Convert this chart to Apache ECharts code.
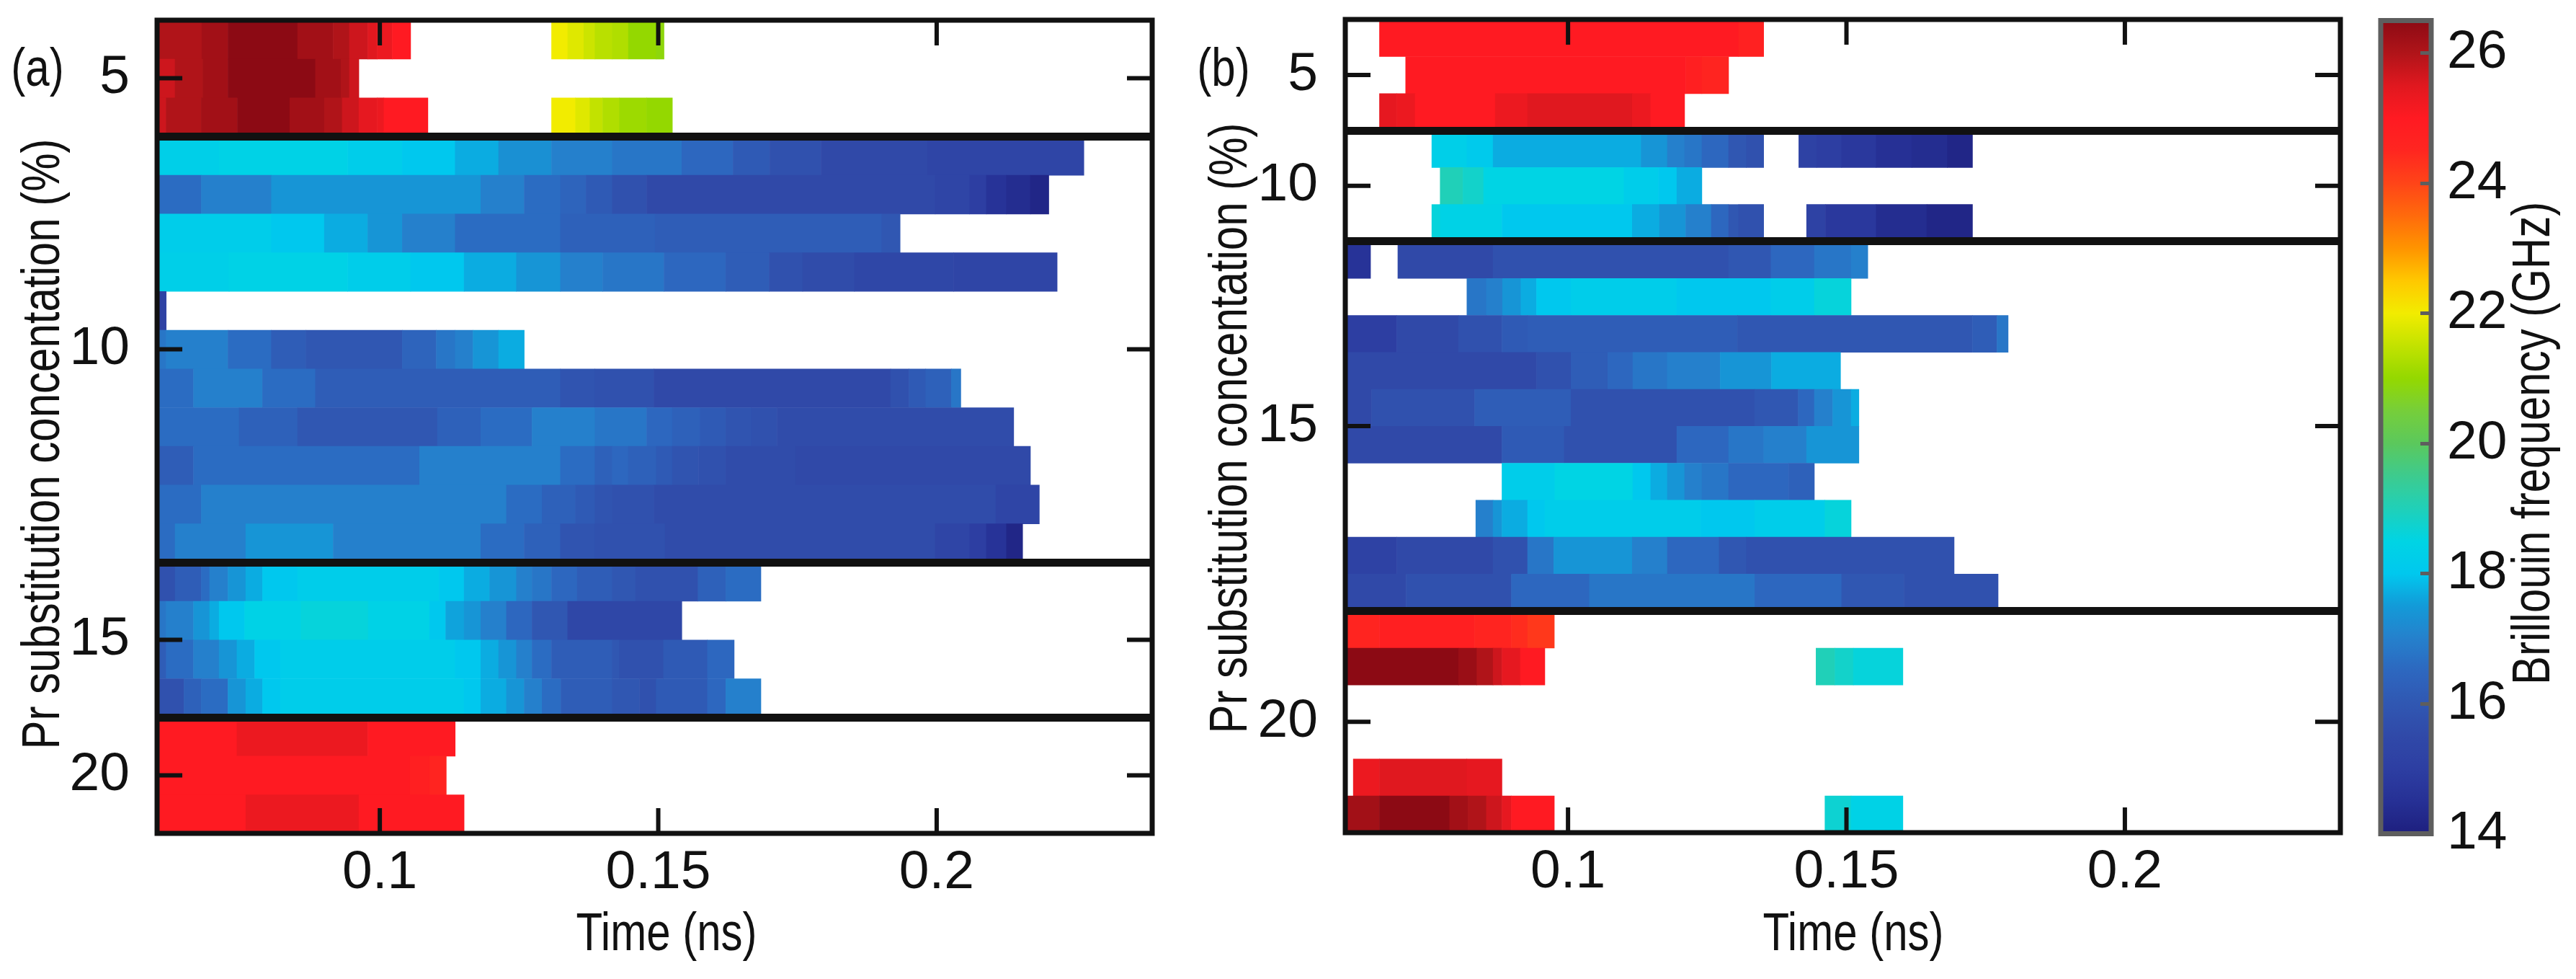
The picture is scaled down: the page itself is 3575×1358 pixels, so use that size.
<!DOCTYPE html>
<html>
<head>
<meta charset="utf-8">
<script src="https://cdn.jsdelivr.net/npm/echarts@6/dist/echarts.min.js"></script>
<style>
  html, body { margin: 0; padding: 0; background: #fff; }
  #chart { width: 3575px; height: 1358px; }
</style>
</head>
<body>
<div id="chart"></div>
<script>
// each row: [t0, f0, t1, f1, ..., tEnd]  (time in ns, Brillouin frequency in GHz, null = no data)
const aSub1 = [
  [0.06,26.0, 0.068,26.2, 0.0727,26.5, 0.0852,26.2, 0.0916,26.0, 0.0945,25.7, 0.0978,25.5, 0.0995,25.3, 0.1022,25.0, 0.1055,null, 0.1308,22.0, 0.1337,21.8, 0.1366,21.6, 0.1386,21.4, 0.1417,21.3, 0.1446,21.0, 0.1496,20.9, 0.151],
  [0.06,25.7, 0.0632,26.0, 0.0682,26.2, 0.0727,26.5, 0.0884,26.2, 0.093,26.0, 0.0945,25.7, 0.0962],
  [0.06,25.7, 0.0616,26.0, 0.0679,26.2, 0.0744,26.5, 0.0838,26.2, 0.09,26.0, 0.0932,25.7, 0.0962,25.4, 0.0995,25.3, 0.1007,25.0, 0.1086,null, 0.1308,22.0, 0.1351,21.8, 0.1377,21.5, 0.14,21.3, 0.143,21.1, 0.1479,21.0, 0.1525]
];
const aSub2 = [
  [0.06,18.3, 0.0711,18.4, 0.0942,18.2, 0.104,18.0, 0.1135,17.7, 0.1213,17.3, 0.1308,17.0, 0.1417,16.8, 0.1542,16.5, 0.1634,16.1, 0.17,15.8, 0.1792,15.5, 0.1983,15.3, 0.2264],
  [0.06,16.6, 0.0679,17.0, 0.0805,17.4, 0.1181,17.0, 0.1259,16.6, 0.1324,16.4, 0.137,16.1, 0.1417,15.8, 0.1479,15.5, 0.1997,15.3, 0.2059,15.0, 0.2089,14.6, 0.2125,14.4, 0.2168,14.2, 0.2201],
  [0.06,18.2, 0.0805,18.0, 0.09,17.7, 0.0978,17.4, 0.104,17.0, 0.1135,16.6, 0.1324,16.3, 0.1494,16.2, 0.1901,16.0, 0.1934],
  [0.06,18.3, 0.0729,18.4, 0.0942,18.2, 0.1055,18.0, 0.1151,17.7, 0.1245,17.4, 0.1324,17.0, 0.14,16.8, 0.151,16.5, 0.1621,16.2, 0.1699,15.8, 0.1759,15.6, 0.1852,15.4, 0.203,15.3, 0.2216],
  [0.06,15.2, 0.0616],
  [0.06,16.8, 0.0616,17.0, 0.0727,16.6, 0.0805,16.2, 0.0867,16.0, 0.104,16.4, 0.1101,16.8, 0.1135,17.0, 0.1167,17.4, 0.1213,17.7, 0.1259],
  [0.06,16.6, 0.0665,17.0, 0.0789,16.6, 0.0884,16.2, 0.1324,15.9, 0.1386,15.8, 0.1492,15.5, 0.1917,15.8, 0.195,16.1, 0.198,16.3, 0.2026,16.8, 0.2043],
  [0.06,16.6, 0.0747,16.3, 0.0852,16.0, 0.1103,16.3, 0.1181,16.6, 0.1273,17.0, 0.1386,16.8, 0.1479,16.5, 0.1525,16.3, 0.1575,16.1, 0.1621,15.9, 0.1667,15.8, 0.1713,15.6, 0.2138],
  [0.06,16.2, 0.0665,16.6, 0.1071,17.0, 0.1324,16.6, 0.1386,16.3, 0.1417,16.5, 0.1446,16.3, 0.1496,16.1, 0.1525,15.9, 0.1572,15.8, 0.1621,15.6, 0.1746,15.5, 0.2168],
  [0.06,16.6, 0.0679,17.0, 0.1227,16.6, 0.1291,16.3, 0.1351,16.1, 0.1386,15.9, 0.1417,15.8, 0.1492,15.6, 0.2106,15.3, 0.2184],
  [0.06,16.6, 0.0632,17.0, 0.0759,17.4, 0.0916,17.0, 0.1181,16.6, 0.1259,16.3, 0.1324,15.9, 0.1386,15.8, 0.1512,15.6, 0.1997,15.3, 0.2059,15.0, 0.2089,14.6, 0.2125,14.2, 0.2154]
];
const aSub3 = [
  [0.06,15.8, 0.0632,16.2, 0.0679,16.6, 0.0694,17.0, 0.0727,17.4, 0.0759,17.7, 0.0789,18.0, 0.0852,18.2, 0.1106,18.0, 0.1151,17.7, 0.1197,17.4, 0.1245,17.0, 0.1273,16.8, 0.1308,16.5, 0.1354,16.2, 0.1417,16.0, 0.1459,15.8, 0.1571,16.3, 0.1621,16.6, 0.1684],
  [0.06,16.8, 0.0616,17.0, 0.0665,17.4, 0.0694,17.7, 0.0711,18.0, 0.0757,18.4, 0.0858,18.6, 0.0979,18.4, 0.1089,18.0, 0.1118,17.6, 0.1151,17.4, 0.1181,17.0, 0.1227,16.5, 0.1273,16.0, 0.1337,15.4, 0.1542],
  [0.06,16.2, 0.0616,16.6, 0.0665,17.0, 0.0711,17.4, 0.0743,17.7, 0.0775,18.0, 0.0821,18.2, 0.1135,18.0, 0.1181,17.7, 0.1213,17.4, 0.1245,17.0, 0.1273,16.6, 0.1308,16.2, 0.1417,16.0, 0.143,15.8, 0.1509,16.1, 0.1588,16.5, 0.1636],
  [0.06,15.8, 0.0648,16.3, 0.0679,16.6, 0.0727,17.4, 0.0759,17.7, 0.0789,18.0, 0.0821,18.2, 0.1151,18.0, 0.1181,17.7, 0.1227,17.4, 0.1259,17.0, 0.1291,16.6, 0.1325,16.2, 0.1417,16.0, 0.1466,15.8, 0.1496,16.1, 0.1588,16.5, 0.1621,17.0, 0.1684]
];
const aSub4 = [
  [0.06,25.0, 0.0743,25.3, 0.0978,25.0, 0.1135],
  [0.06,25.0, 0.1054,24.8, 0.1089,24.6, 0.1119],
  [0.06,25.0, 0.0759,25.3, 0.0962,25.0, 0.1151]
];

const bSub1 = [
  [0.0661,25.0, 0.1306,24.7, 0.1351],
  [0.0708,25.0, 0.1211,24.8, 0.124,24.6, 0.1288],
  [0.0661,25.4, 0.0692,25.3, 0.0725,25.0, 0.0869,25.3, 0.0927,25.5, 0.1115,25.3, 0.1148,25.0, 0.1209]
];
const bSub2 = [
  [0.0755,18.3, 0.0818,18.1, 0.0865,17.7, 0.1131,17.4, 0.1178,17.0, 0.1209,16.8, 0.124,16.5, 0.1288,16.0, 0.132,15.8, 0.1351,null, 0.1414,15.2, 0.1446,15.0, 0.1491,14.8, 0.1553,14.5, 0.1617,14.4, 0.1681,14.2, 0.1726],
  [0.077,19.0, 0.0811,18.8, 0.0848,18.5, 0.11,18.2, 0.1162,18.0, 0.1195,17.7, 0.124],
  [0.0755,18.6, 0.077,18.4, 0.0881,18.0, 0.1115,17.7, 0.1164,17.4, 0.1211,17.0, 0.1257,16.5, 0.1288,16.0, 0.1306,15.8, 0.1351,null, 0.1428,15.2, 0.1462,14.8, 0.1553,14.4, 0.1644,14.2, 0.1726]
];
const bSub3 = [
  [0.06,14.6, 0.0645,null, 0.0694,15.5, 0.0865,15.8, 0.1288,16.0, 0.1364,16.5, 0.1442,16.8, 0.1508,17.0, 0.1538],
  [0.0818,16.8, 0.0853,17.0, 0.0882,17.4, 0.0915,17.7, 0.0943,18.0, 0.1005,18.2, 0.1195,18.0, 0.1364,18.2, 0.1442,18.6, 0.1508],
  [0.06,15.0, 0.0692,15.5, 0.0803,15.8, 0.0881,16.1, 0.0927,16.2, 0.1304,16.0, 0.1726,16.2, 0.177,16.8, 0.179],
  [0.06,15.5, 0.0943,15.8, 0.1005,16.2, 0.1071,16.5, 0.1116,16.8, 0.1178,17.0, 0.1273,17.4, 0.1365,17.7, 0.1489],
  [0.06,15.5, 0.0647,15.8, 0.0832,16.2, 0.1005,15.8, 0.1335,16.0, 0.1413,16.5, 0.1442,17.0, 0.1475,17.4, 0.1508,17.7, 0.1522],
  [0.06,15.5, 0.0881,16.1, 0.0993,15.8, 0.1195,16.5, 0.1288,16.8, 0.1351,17.0, 0.1428,17.4, 0.1522],
  [0.0881,18.2, 0.0976,18.5, 0.1116,18.0, 0.1148,17.7, 0.1178,17.4, 0.1209,17.0, 0.124,16.8, 0.1288,16.5, 0.1396,16.3, 0.1442],
  [0.0834,17.0, 0.0865,17.4, 0.0881,17.7, 0.0927,18.0, 0.0958,18.2, 0.1238,18.0, 0.1335,18.2, 0.1461,18.6, 0.1508],
  [0.06,15.2, 0.0692,15.5, 0.0865,15.8, 0.0927,16.8, 0.0974,17.4, 0.1115,17.0, 0.1178,16.5, 0.1271,16.0, 0.132,15.8, 0.1693],
  [0.06,15.5, 0.0709,15.8, 0.0898,16.5, 0.1038,16.8, 0.1335,16.5, 0.1491,16.0, 0.1603,15.8, 0.1772]
];
const bSub4 = [
  [0.06,24.6, 0.0661,24.8, 0.0832,24.6, 0.0898,24.4, 0.0927,24.2, 0.0975],
  [0.06,26.5, 0.0803,26.3, 0.0836,26.0, 0.0865,25.7, 0.0881,25.4, 0.0914,25.0, 0.0958,null, 0.1445,19.0, 0.1479,18.8, 0.1512,18.6, 0.1601],
  [],
  [],
  [0.0614,25.3, 0.0661,25.5, 0.0818,25.4, 0.0881],
  [0.06,26.2, 0.0661,26.5, 0.0787,26.2, 0.082,26.0, 0.0853,25.7, 0.0881,25.4, 0.0898,25.0, 0.0975,null, 0.1461,18.7, 0.1508,18.4, 0.1601]
];

const timeTicks = [0.1, 0.15, 0.2];
const timeMin = 0.06, timeMax = 0.2387;
const concLabels = ['5', '10', '15', '20'];
const concRowsA = [1.5, 8.5, 16, 19.5];
const concRowsB = [1.5, 4.5, 11, 19];
const freqTicks = [14, 16, 18, 20, 22, 24, 26];
const freqMin = 14, freqMax = 26.5;
const colorStops = ['#1e1f7e','#263095','#2d3ea2','#3049a8','#3057b2','#2d67bf','#2580cc','#139ad8',
  '#00c8ee','#00d4e4','#20d0b8','#3dcb8e','#5bc85c','#76ce3a','#94d800','#c2e200','#f2ec00',
  '#ffc800','#ff9400','#ff6a0c','#ff4418','#ff2620','#ff1a22','#e0181f','#b01419','#8c0a14'];

const rowsA = aSub1.concat(aSub2, aSub3, aSub4);
const rowsB = bSub1.concat(bSub2, bSub3, bSub4);
const breaksA = [aSub1.length, aSub1.length + aSub2.length, aSub1.length + aSub2.length + aSub3.length];
const breaksB = [bSub1.length, bSub1.length + bSub2.length, bSub1.length + bSub2.length + bSub3.length];

const PLOT_W = 1381, PLOT_H = 1128;
const TICK_PX = 35;

function toCells(rows) {
  const out = [];
  rows.forEach(function (row, r) {
    for (let i = 1; i < row.length - 1; i += 2) {
      if (row[i] == null) continue;
      out.push([row[i - 1], row[i + 1], r, row[i]]);
    }
  });
  return out;
}

function renderCell(params, api) {
  const p0 = api.coord([api.value(0), api.value(2)]);
  const p1 = api.coord([api.value(1), api.value(2) + 1]);
  return {
    type: 'rect',
    shape: { x: p0[0], y: p0[1], width: p1[0] - p0[0] + 0.6, height: p1[1] - p0[1] + 0.6 },
    style: { fill: api.visual('color') }
  };
}

// tick items: [time, row, side]  side 0 top, 1 bottom, 2 left, 3 right
const SIDE_DIR = [[0, 1], [0, -1], [1, 0], [-1, 0]];
function tickItems(nRows, rowsPos) {
  const out = [];
  timeTicks.forEach(function (t) { out.push([t, 0, 0]); out.push([t, nRows, 1]); });
  rowsPos.forEach(function (r) { out.push([timeMin, r, 2]); out.push([timeMax, r, 3]); });
  return out;
}

function renderTick(params, api) {
  const p = api.coord([api.value(0), api.value(1)]);
  const d = SIDE_DIR[api.value(2)];
  return {
    type: 'line',
    shape: { x1: p[0], y1: p[1], x2: p[0] + TICK_PX * d[0], y2: p[1] + TICK_PX * d[1] },
    style: { stroke: '#111', lineWidth: 6, lineCap: 'butt' }
  };
}

const FONT = '"Liberation Sans", Arial, Helvetica, sans-serif';
const INK = '#111';
const NARROW = 0.8;   // the figure uses a condensed Helvetica

function labelFor(rowsPos) {
  return function (v) {
    for (let i = 0; i < rowsPos.length; i++) {
      if (Math.abs(rowsPos[i] - v) < 1e-6) return concLabels[i];
    }
    return '';
  };
}

function timeAxis(gridIndex) {
  return {
    type: 'value', gridIndex: gridIndex, min: timeMin, max: timeMax, position: 'bottom',
    splitLine: { show: false }, axisLine: { show: false, onZero: false }, axisTick: { show: false },
    axisLabel: { show: true, customValues: timeTicks, margin: 18, fontSize: 75, fontFamily: FONT, color: INK,
      formatter: function (v) { return String(v); } }
  };
}

function concAxis(gridIndex, nRows, rowsPos) {
  return {
    type: 'value', gridIndex: gridIndex, min: 0, max: nRows, inverse: true, position: 'left',
    splitLine: { show: false }, axisLine: { show: false, onZero: false }, axisTick: { show: false },
    axisLabel: { show: true, customValues: rowsPos, margin: 38, fontSize: 75, fontFamily: FONT, color: INK,
      formatter: labelFor(rowsPos) }
  };
}

// thick lines between sample groups
function breakSeries(axisIndex, breaks) {
  return {
    type: 'line', data: [], xAxisIndex: axisIndex, yAxisIndex: axisIndex, z: 4, silent: true,
    markLine: {
      silent: true, symbol: 'none', label: { show: false }, animation: false,
      lineStyle: { color: INK, width: 11, type: 'solid' },
      data: breaks.map(function (b) { return { yAxis: b }; })
    }
  };
}

function caption(text, x, y, vertical) {
  return {
    type: 'text', x: x, y: y, rotation: vertical ? Math.PI / 2 : 0, scaleX: NARROW, silent: true,
    style: { text: text, fontSize: 75, fontFamily: FONT, fill: INK, align: 'center', verticalAlign: 'middle' }
  };
}

const frame = { show: true, borderColor: INK, borderWidth: 7, backgroundColor: 'transparent', z: 5 };

const chart = echarts.init(document.getElementById('chart'), null, { renderer: 'canvas' });
chart.setOption({
  backgroundColor: '#fff',
  animation: false,
  graphic: { elements: [
    caption('(a)', 52, 98, false),
    caption('(b)', 1698, 98, false),
    caption('Pr substitution concentation (%)', 61, 616, true),
    caption('Pr substitution concentation (%)', 1709, 594, true),
    caption('Time (ns)', 925, 1297, false),
    caption('Time (ns)', 2572, 1297, false),
    caption('Brillouin frequency (GHz)', 3517, 615, true)
  ] },
  grid: [
    Object.assign({ left: 218, top: 28, width: PLOT_W, height: PLOT_H }, frame),
    Object.assign({ left: 1867, top: 27, width: PLOT_W, height: PLOT_H }, frame),
    { show: true, left: 3304, top: 28.5, width: 70, height: 1128, borderColor: '#5e5e5e', borderWidth: 7,
      backgroundColor: 'transparent', z: 10 }
  ],
  xAxis: [timeAxis(0), timeAxis(1),
    { type: 'value', gridIndex: 2, min: 0, max: 1, show: false }],
  yAxis: [concAxis(0, rowsA.length, concRowsA), concAxis(1, rowsB.length, concRowsB),
    { type: 'value', gridIndex: 2, position: 'right', min: freqMin, max: freqMax, z: 11,
      splitLine: { show: false }, axisLine: { show: false, onZero: false },
      axisTick: { show: true, inside: true, length: 15, customValues: freqTicks, lineStyle: { color: '#5e5e5e', width: 5 } },
      axisLabel: { show: true, customValues: freqTicks, margin: 22, fontSize: 75, fontFamily: FONT, color: INK } }],
  visualMap: {
    type: 'continuous', min: freqMin, max: freqMax, dimension: 3, seriesIndex: [0, 1],
    left: 3304, top: 28.5, itemWidth: 70, itemHeight: 1128, padding: 0,
    calculable: false, hoverLink: false, showLabel: false, text: null,
    inRange: { color: colorStops }
  },
  series: [
    { type: 'custom', name: 'a', xAxisIndex: 0, yAxisIndex: 0, z: 2, renderItem: renderCell,
      encode: { x: [0, 1], y: 2 }, data: toCells(rowsA) },
    { type: 'custom', name: 'b', xAxisIndex: 1, yAxisIndex: 1, z: 2, renderItem: renderCell,
      encode: { x: [0, 1], y: 2 }, data: toCells(rowsB) },
    breakSeries(0, breaksA),
    breakSeries(1, breaksB),
    { type: 'custom', name: 'ticksA', xAxisIndex: 0, yAxisIndex: 0, z: 6, silent: true, renderItem: renderTick,
      encode: { x: 0, y: 1 }, data: tickItems(rowsA.length, concRowsA) },
    { type: 'custom', name: 'ticksB', xAxisIndex: 1, yAxisIndex: 1, z: 6, silent: true, renderItem: renderTick,
      encode: { x: 0, y: 1 }, data: tickItems(rowsB.length, concRowsB) }
  ]
});
</script>
</body>
</html>
